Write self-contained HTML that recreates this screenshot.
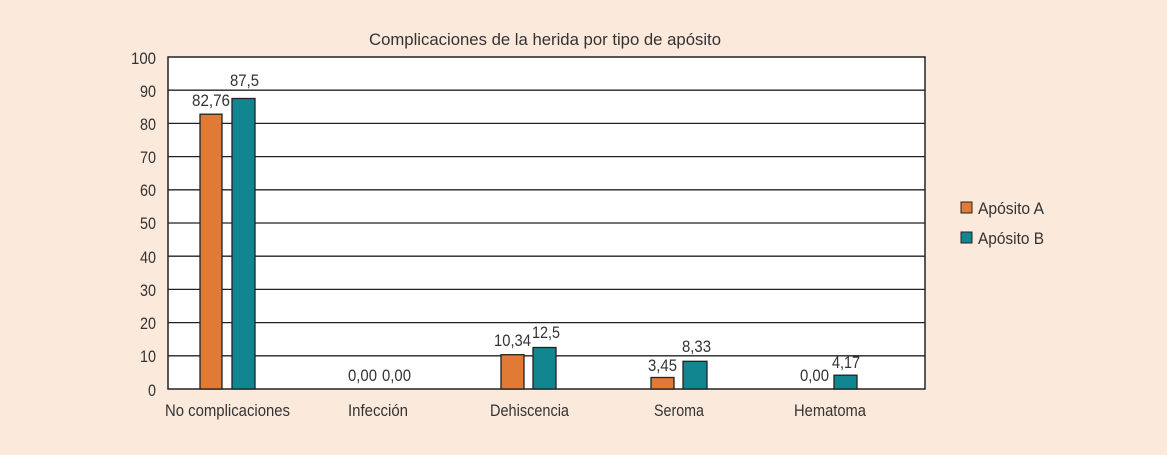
<!DOCTYPE html>
<html><head><meta charset="utf-8"><style>
body{margin:0;background:#fbe9dc;}
svg{display:block;font-family:"Liberation Sans",sans-serif;}
text{fill:#333;font-size:17px;}
</style></head><body>
<svg width="1167" height="455" viewBox="0 0 1167 455">
<rect width="1167" height="455" fill="#fbe9dc"/>
<rect x="168" y="57" width="757" height="332" fill="#fff" stroke="#222" stroke-width="1.5"/>
<g stroke="#222" stroke-width="1.3">
<line x1="168" x2="925" y1="90.2" y2="90.2"/><line x1="168" x2="925" y1="123.4" y2="123.4"/>
<line x1="168" x2="925" y1="156.6" y2="156.6"/><line x1="168" x2="925" y1="189.8" y2="189.8"/>
<line x1="168" x2="925" y1="223" y2="223"/><line x1="168" x2="925" y1="256.2" y2="256.2"/>
<line x1="168" x2="925" y1="289.4" y2="289.4"/><line x1="168" x2="925" y1="322.6" y2="322.6"/>
<line x1="168" x2="925" y1="355.8" y2="355.8"/>
</g>
<g text-anchor="end" lengthAdjust="spacingAndGlyphs">
<text x="156" y="64" textLength="25" lengthAdjust="spacingAndGlyphs">100</text>
<text x="156" y="97" textLength="16" lengthAdjust="spacingAndGlyphs">90</text>
<text x="156" y="130" textLength="16" lengthAdjust="spacingAndGlyphs">80</text>
<text x="156" y="163" textLength="16" lengthAdjust="spacingAndGlyphs">70</text>
<text x="156" y="196" textLength="16" lengthAdjust="spacingAndGlyphs">60</text>
<text x="156" y="229" textLength="16" lengthAdjust="spacingAndGlyphs">50</text>
<text x="156" y="263" textLength="16" lengthAdjust="spacingAndGlyphs">40</text>
<text x="156" y="296" textLength="16" lengthAdjust="spacingAndGlyphs">30</text>
<text x="156" y="329" textLength="16" lengthAdjust="spacingAndGlyphs">20</text>
<text x="156" y="362" textLength="16" lengthAdjust="spacingAndGlyphs">10</text>
<text x="156" y="396" textLength="8" lengthAdjust="spacingAndGlyphs">0</text>
</g>
<text x="369" y="45" textLength="352" lengthAdjust="spacingAndGlyphs" font-size="18">Complicaciones de la herida por tipo de apósito</text>
<g stroke="#222" stroke-width="1.3">
<rect x="200" y="114.2" width="22" height="274.8" fill="#e07a35"/>
<rect x="232" y="98.5" width="23" height="290.5" fill="#128690"/>
<rect x="501" y="354.7" width="23" height="34.3" fill="#e07a35"/>
<rect x="533" y="347.5" width="23" height="41.5" fill="#128690"/>
<rect x="651" y="377.5" width="23" height="11.5" fill="#e07a35"/>
<rect x="683" y="361.3" width="24" height="27.7" fill="#128690"/>
<rect x="834" y="375.2" width="23" height="13.8" fill="#128690"/>
</g>
<text x="192" y="106" textLength="38" lengthAdjust="spacingAndGlyphs">82,76</text>
<text x="230" y="86" textLength="29" lengthAdjust="spacingAndGlyphs">87,5</text>
<text x="348" y="381" textLength="29" lengthAdjust="spacingAndGlyphs">0,00</text>
<text x="382" y="381" textLength="29" lengthAdjust="spacingAndGlyphs">0,00</text>
<text x="494" y="346" textLength="37" lengthAdjust="spacingAndGlyphs">10,34</text>
<text x="532" y="338" textLength="28" lengthAdjust="spacingAndGlyphs">12,5</text>
<text x="648" y="371" textLength="29" lengthAdjust="spacingAndGlyphs">3,45</text>
<text x="682" y="352" textLength="29" lengthAdjust="spacingAndGlyphs">8,33</text>
<text x="800" y="381" textLength="29" lengthAdjust="spacingAndGlyphs">0,00</text>
<text x="832" y="368" textLength="28" lengthAdjust="spacingAndGlyphs">4,17</text>
<text x="165" y="416" textLength="125" lengthAdjust="spacingAndGlyphs">No complicaciones</text>
<text x="348" y="416" textLength="60" lengthAdjust="spacingAndGlyphs">Infección</text>
<text x="490" y="416" textLength="79" lengthAdjust="spacingAndGlyphs">Dehiscencia</text>
<text x="654" y="416" textLength="50" lengthAdjust="spacingAndGlyphs">Seroma</text>
<text x="794" y="416" textLength="72" lengthAdjust="spacingAndGlyphs">Hematoma</text>
<rect x="961" y="202" width="11" height="11" fill="#e07a35" stroke="#222"/>
<rect x="961" y="232" width="11" height="11" fill="#128690" stroke="#222"/>
<text x="978" y="214" textLength="66" lengthAdjust="spacingAndGlyphs">Apósito A</text>
<text x="978" y="244" textLength="66" lengthAdjust="spacingAndGlyphs">Apósito B</text>
</svg>
</body></html>
